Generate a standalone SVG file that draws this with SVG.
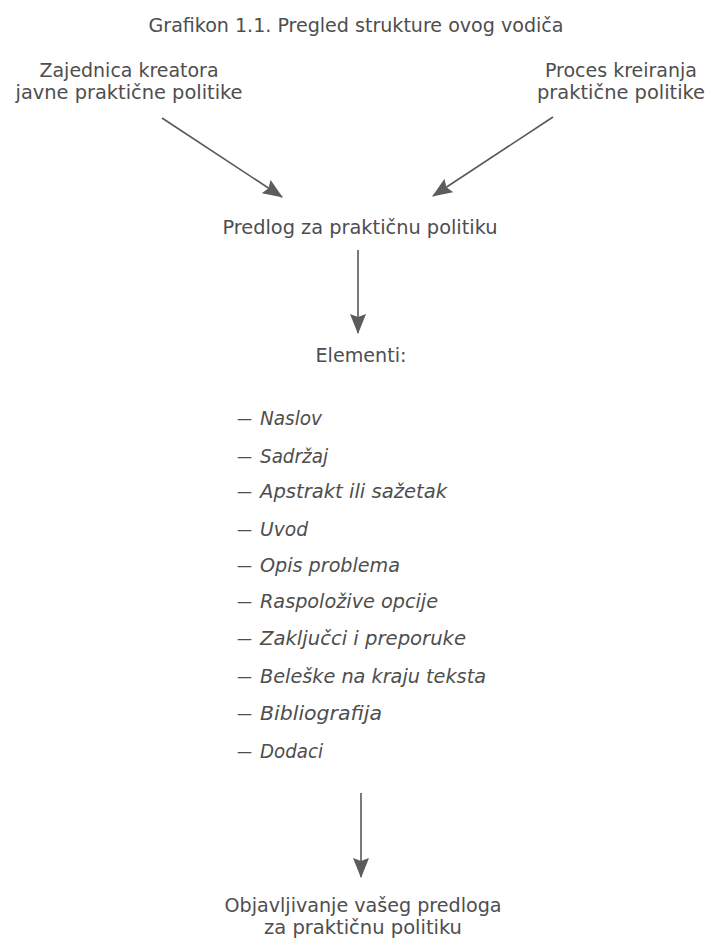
<svg xmlns="http://www.w3.org/2000/svg" width="710" height="938" viewBox="0 0 710 938">
<style>
text{font-family:"DejaVu Sans Condensed","DejaVu Sans",sans-serif;fill:#4e4e4e;font-size:20px}
.t{text-anchor:middle}
.lb{font-size:19px}
.it{font-style:italic;font-size:19px}
.d{font-size:19px}
.c{stroke:#585858;stroke-width:1.6;fill:none}
</style>
<defs>
<marker id="ad" markerUnits="userSpaceOnUse" markerWidth="20" markerHeight="16" viewBox="0 0 20 16" refX="19" refY="8" orient="auto">
<path d="M0,0 L20,8 L0,16 L3,8 Z" fill="#5c5c5c"/>
</marker>
</defs>
<rect width="710" height="938" fill="#ffffff"/>
<g id="title"><text class="t" x="356" y="32" textLength="415" lengthAdjust="spacingAndGlyphs">Grafikon 1.1. Pregled strukture ovog vodiča</text></g>
<g id="n-zajednica">
<text class="t lb" x="129" y="77" textLength="179" lengthAdjust="spacingAndGlyphs">Zajednica kreatora</text>
<text class="t lb" x="129" y="99" textLength="227" lengthAdjust="spacingAndGlyphs">javne praktične politike</text>
</g>
<g id="n-proces">
<text class="t lb" x="621" y="77" textLength="152" lengthAdjust="spacingAndGlyphs">Proces kreiranja</text>
<text class="t lb" x="621" y="99" textLength="168" lengthAdjust="spacingAndGlyphs">praktične politike</text>
</g>
<g id="n-predlog"><text class="t" x="360" y="234" textLength="275" lengthAdjust="spacingAndGlyphs">Predlog za praktičnu politiku</text></g>
<g id="n-elementi">
<text class="t" x="361" y="362" font-size="19" textLength="91" lengthAdjust="spacingAndGlyphs">Elementi:</text>
<g class="list">
<text class="d" x="237" y="425" textLength="15" lengthAdjust="spacingAndGlyphs">—</text><text class="it" x="260" y="425" textLength="62" lengthAdjust="spacingAndGlyphs">Naslov</text>
<text class="d" x="237" y="463" textLength="15" lengthAdjust="spacingAndGlyphs">—</text><text class="it" x="260" y="463" textLength="68" lengthAdjust="spacingAndGlyphs">Sadržaj</text>
<text class="d" x="237" y="498" textLength="15" lengthAdjust="spacingAndGlyphs">—</text><text class="it" x="260" y="498" textLength="187" lengthAdjust="spacingAndGlyphs">Apstrakt ili sažetak</text>
<text class="d" x="237" y="536" textLength="15" lengthAdjust="spacingAndGlyphs">—</text><text class="it" x="260" y="536" textLength="48" lengthAdjust="spacingAndGlyphs">Uvod</text>
<text class="d" x="237" y="572" textLength="15" lengthAdjust="spacingAndGlyphs">—</text><text class="it" x="260" y="572" textLength="140" lengthAdjust="spacingAndGlyphs">Opis problema</text>
<text class="d" x="237" y="608" textLength="15" lengthAdjust="spacingAndGlyphs">—</text><text class="it" x="260" y="608" textLength="178" lengthAdjust="spacingAndGlyphs">Raspoložive opcije</text>
<text class="d" x="237" y="645" textLength="15" lengthAdjust="spacingAndGlyphs">—</text><text class="it" x="260" y="645" textLength="206" lengthAdjust="spacingAndGlyphs">Zaključci i preporuke</text>
<text class="d" x="237" y="683" textLength="15" lengthAdjust="spacingAndGlyphs">—</text><text class="it" x="260" y="683" textLength="226" lengthAdjust="spacingAndGlyphs">Beleške na kraju teksta</text>
<text class="d" x="237" y="720" textLength="15" lengthAdjust="spacingAndGlyphs">—</text><text class="it" x="260" y="720" textLength="122" lengthAdjust="spacingAndGlyphs">Bibliografija</text>
<text class="d" x="237" y="758" textLength="15" lengthAdjust="spacingAndGlyphs">—</text><text class="it" x="260" y="758" textLength="63" lengthAdjust="spacingAndGlyphs">Dodaci</text>
</g>
</g>
<g id="n-objavljivanje">
<text class="t lb" x="363" y="912" textLength="277" lengthAdjust="spacingAndGlyphs">Objavljivanje vašeg predloga</text>
<text class="t lb" x="363" y="934" textLength="198" lengthAdjust="spacingAndGlyphs">za praktičnu politiku</text>
</g>
<g id="connectors">
<line class="c" x1="162" y1="118" x2="282" y2="197" marker-end="url(#ad)"/>
<line class="c" x1="553" y1="117" x2="433" y2="196" marker-end="url(#ad)"/>
<line class="c" x1="358" y1="250" x2="358" y2="333" marker-end="url(#ad)"/>
<line class="c" x1="361" y1="793" x2="361" y2="877" marker-end="url(#ad)"/>
</g>
</svg>
